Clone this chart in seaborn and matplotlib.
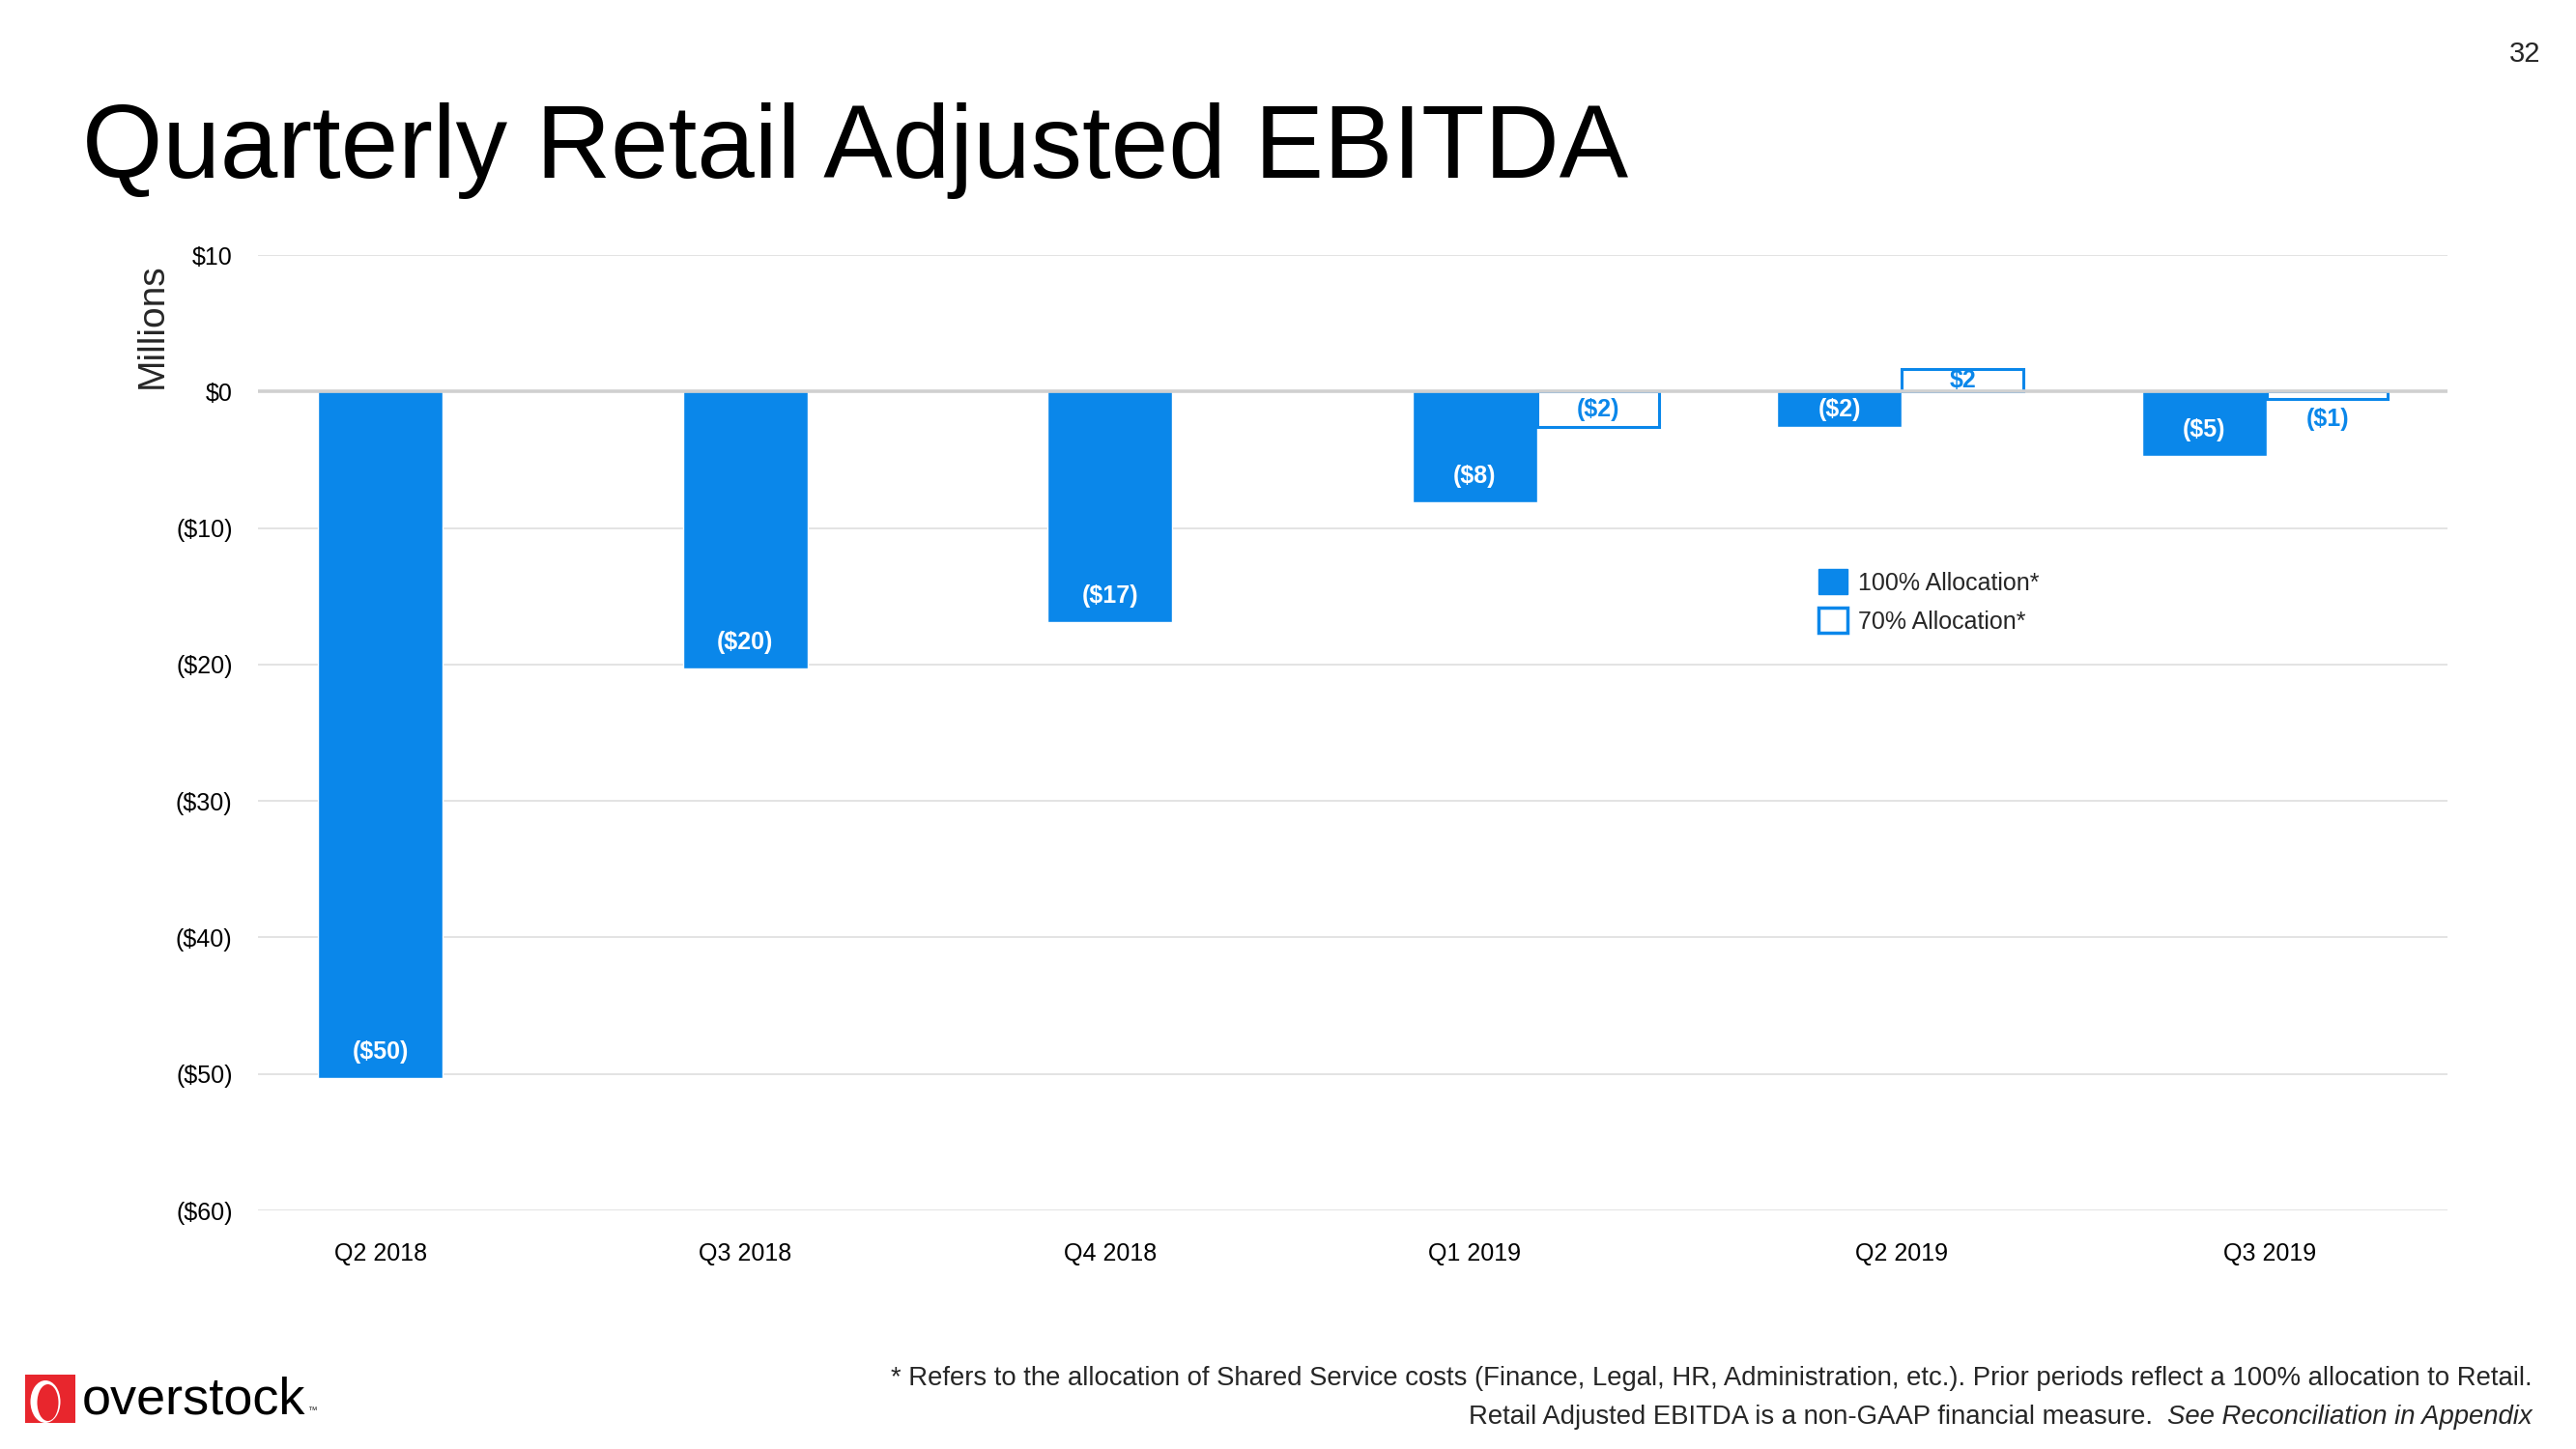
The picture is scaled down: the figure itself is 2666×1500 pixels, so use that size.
import numpy as np
import pandas as pd
import matplotlib; matplotlib.use('Agg')
import matplotlib.pyplot as plt
from matplotlib.patches import Patch, Rectangle, Ellipse
import seaborn as sns

# ---- data (millions USD) ----
QUARTERS     = ['Q2 2018', 'Q3 2018', 'Q4 2018', 'Q1 2019', 'Q2 2019', 'Q3 2019']
FULL_ALLOC   = [-50.3, -20.3, -16.9, -8.1, -2.6, -4.7]      # 100% allocation
FULL_LABELS  = ['($50)', '($20)', '($17)', '($8)', '($2)', '($5)']
PART_ALLOC   = [np.nan, np.nan, np.nan, -2.6, 1.65, -0.55]  # 70% allocation
PART_LABELS  = ['', '', '', '($2)', '$2', '($1)']
Y_TICKS      = [10, 0, -10, -20, -30, -40, -50, -60]
Y_TICK_TEXT  = ['$10', '$0', '($10)', '($20)', '($30)', '($40)', '($50)', '($60)']

BLUE = '#0A87EA'
W_FULL, W_PART = 0.342, 0.333

sns.set_theme(style='white')
plt.rcParams['font.family'] = ['Liberation Sans', 'DejaVu Sans']

fig = plt.figure(figsize=(26.66, 15), dpi=100)
ax = fig.add_axes([267/2666, 1 - 1253/1500, 2266/2666, 989/1500])

df = pd.DataFrame({'quarter': QUARTERS, 'value': FULL_ALLOC})
sns.barplot(data=df, x='quarter', y='value', order=QUARTERS, color=BLUE,
            saturation=1, width=W_FULL, errorbar=None, ax=ax, zorder=2)

part = pd.Series(PART_ALLOC)
idx = np.arange(len(QUARTERS))
m = part.notna().values
ax.bar(idx[m] + W_FULL/2, part[m], width=W_PART, align='edge',
       facecolor='white', edgecolor=BLUE, linewidth=2.2, zorder=2)

# value labels
for i, (v, lab) in enumerate(zip(FULL_ALLOC, FULL_LABELS)):
    ax.text(i, min(v + 1.9, v/2), lab, ha='center', va='center',
            color='white', fontweight='bold', fontsize=18, zorder=4)
for i, (v, lab) in enumerate(zip(PART_ALLOC, PART_LABELS)):
    if np.isnan(v): continue
    y = v/2 if abs(v) > 1 else v - 1.45
    ax.text(i + W_FULL/2 + W_PART/2, y, lab, ha='center', va='center',
            color=BLUE, fontweight='bold', fontsize=18, zorder=4)

ax.set_xlim(-0.336, 5.667)
ax.set_ylim(-60, 10)
ax.set_yticks(Y_TICKS, Y_TICK_TEXT)
shift = [0, 0, 0, 0, W_FULL/2, W_FULL/2 + 0.01]
ax.set_xticks(idx + np.array(shift), QUARTERS)
ax.set_xlabel(''); ax.set_ylabel('')
ax.tick_params(axis='both', length=0, labelsize=18, colors='black')
ax.tick_params(axis='y', pad=19)
ax.tick_params(axis='x', pad=24)
for s in ax.spines.values(): s.set_visible(False)
ax.grid(axis='y', color='#dedede', lw=1.2)
ax.set_axisbelow(True)
ax.axhline(0, color='#d0d0d0', lw=2.6, zorder=3)

handles = [Patch(facecolor=BLUE, edgecolor=BLUE, label='100% Allocation*'),
           Patch(facecolor='white', edgecolor=BLUE, lw=2.5, label='70% Allocation*')]
ax.legend(handles=handles, loc='upper left', bbox_to_anchor=(0.7127, 0.671),
          frameon=False, fontsize=18, borderpad=0, borderaxespad=0,
          handlelength=1.2, handleheight=1.2, labelspacing=0.55, handletextpad=0.45)

# ---- slide text ----
fig.text(85/2666, 1 - 184/1500, 'Quarterly Retail Adjusted EBITDA', fontsize=77,
         ha='left', va='baseline', color='black')
fig.text(2613/2666, 1 - 56/1500, '32', fontsize=21, ha='center', va='center')
fig.text(158/2666, 1 - 337/1500, 'Millions', fontsize=28, rotation=90,
         ha='center', va='center')

fs = 19.8
fig.text(2621/2666, 1 - 1434/1500,
         '* Refers to the allocation of Shared Service costs (Finance, Legal, HR, '
         'Administration, etc.). Prior periods reflect a 100% allocation to Retail.',
         fontsize=fs, ha='right', va='baseline')
it = fig.text(2621/2666, 1 - 1474/1500, 'See Reconciliation in Appendix',
              fontsize=fs, ha='right', va='baseline', style='italic')
ax.annotate('Retail Adjusted EBITDA is a non-GAAP financial measure.  ',
            xy=(0, 0), xycoords=it, ha='right', va='bottom', fontsize=fs,
            annotation_clip=False)

# ---- logo ----
px = lambda x, y: (x/100, (1500 - y)/100)
T = fig.dpi_scale_trans
fig.patches.append(Rectangle(px(26, 1473), 0.52, 0.50, facecolor='#E8262D',
                             edgecolor='none', transform=T, figure=fig))
fig.patches.append(Ellipse(px(47, 1451), 0.31, 0.44, facecolor='white',
                           edgecolor='none', transform=T, figure=fig))
fig.patches.append(Ellipse(px(49.5, 1452), 0.22, 0.38, facecolor='#E8262D',
                           edgecolor='none', transform=T, figure=fig))
fig.text(*px(85, 1463), 'overstock', fontsize=39, ha='left', va='baseline',
         transform=T, color='black')
fig.text(*px(318, 1463), '™', fontsize=7, ha='left', va='baseline', transform=T)

fig.savefig('out.png', dpi=100, facecolor='white')
